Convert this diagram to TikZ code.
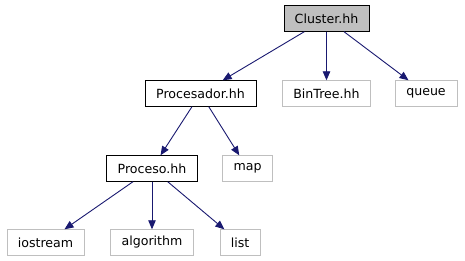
\documentclass[tikz,border=0pt]{standalone}
\usepackage{fontspec}
\setmainfont{DejaVu Sans}
\usepackage{xcolor}
\usetikzlibrary{arrows.meta,positioning}
\definecolor{edgeblue}{HTML}{191970}
\definecolor{grey75}{HTML}{BFBFBF}
\tikzset{%
	hdr/.style      = {draw=black, rectangle, minimum height=26pt, inner xsep=11pt, font=\fontsize{12.6}{15}\selectfont}, % local header
	cur/.style      = {hdr, fill=grey75}, % file of this graph
	sys/.style      = {hdr, draw=grey75}, % system header
	arrow/.style    = {edgeblue, line width=0.9pt, -{Triangle[length=9pt,width=7.5pt]}},
}

\begin{document}
\begin{tikzpicture}[x=1pt,y=1pt,node distance=75pt]
	\useasboundingbox (0,0) rectangle (465,-261);
	\node[cur] (cluster) at (326.5,-18.5) {Cluster.hh};
	\node[hdr, below of=cluster, xshift=-126pt] (procesador) {Procesador.hh};
	\node[sys, below of=cluster] (bintree) {BinTree.hh};
	\node[sys, below of=cluster, xshift=99.5pt] (queue) {queue};
	\node[hdr, below of=procesador, xshift=-48.5pt] (proceso) {Proceso.hh};
	\node[sys, right of=proceso, node distance=95.5pt] (map) {map};
	\node[sys, below of=proceso, node distance=74pt] (algorithm) {algorithm};
	\node[sys, left of=algorithm, node distance=106.5pt] (iostream) {iostream};
	\node[sys, right of=algorithm, node distance=88pt] (list) {list};

	\draw[arrow] (cluster) -- (procesador);
	\draw[arrow] (cluster) -- (bintree);
	\draw[arrow] (cluster) -- (queue);
	\draw[arrow] (procesador) -- (proceso);
	\draw[arrow] (procesador) -- (map);
	\draw[arrow] (proceso) -- (iostream);
	\draw[arrow] (proceso) -- (algorithm);
	\draw[arrow] (proceso) -- (list);
\end{tikzpicture}
\end{document}
